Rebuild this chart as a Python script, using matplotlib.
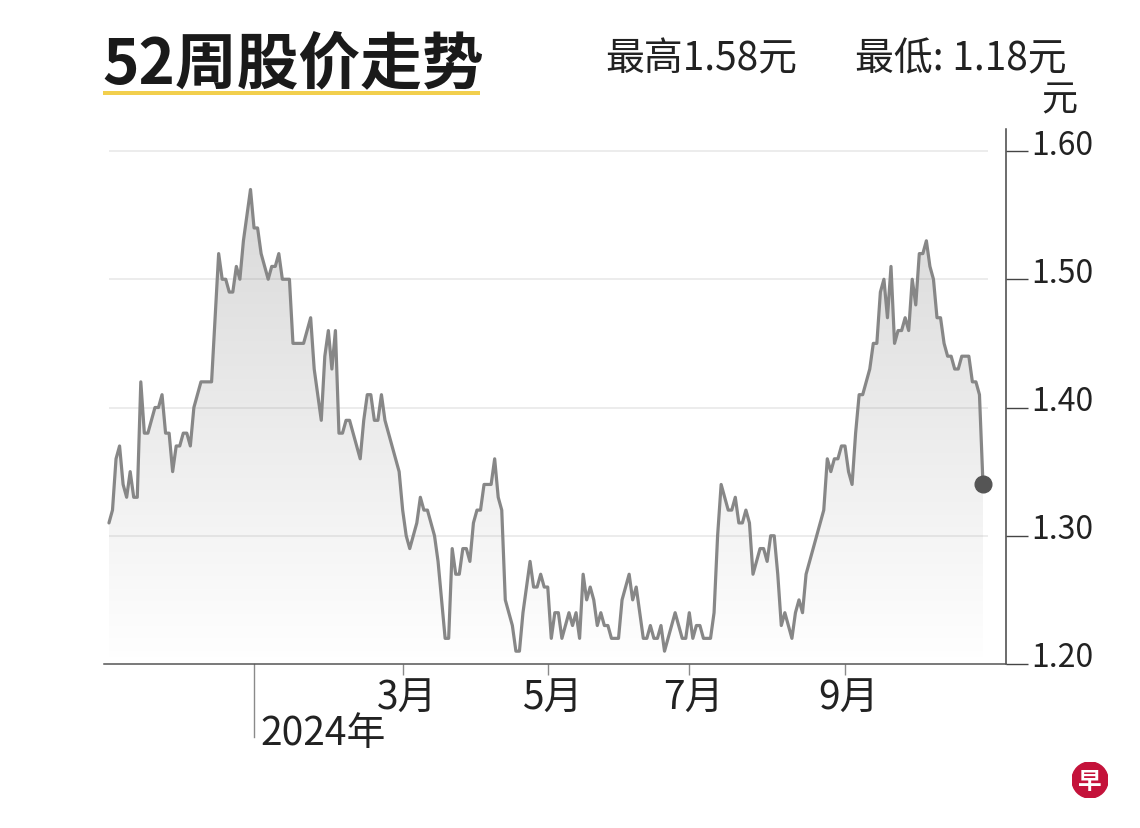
import numpy as np
import pandas as pd
import matplotlib
matplotlib.use('Agg')
import matplotlib.pyplot as plt
from matplotlib.transforms import blended_transform_factory, ScaledTranslation
from matplotlib.patches import Circle, Rectangle, Polygon
from matplotlib.lines import Line2D

plt.rcParams['font.family'] = ['Noto Sans CJK SC', 'DejaVu Sans']

# ---------------- data ----------------
title = '52周股价走势'
high_text = '最高1.58元'
low_text = '最低: 1.18元'
unit_text = '元'

sgx_holidays = ['2023-11-13', '2023-12-25', '2024-01-01', '2024-02-12',
                '2024-03-29', '2024-04-10', '2024-05-01', '2024-05-22',
                '2024-06-17', '2024-08-09', '2024-10-31']
start_date = '2023-11-01'
end_date = '2024-10-25'

prices = [
    1.31, 1.32, 1.36, 1.37, 1.34, 1.33, 1.35, 1.33, 1.33, 1.42,
    1.38, 1.38, 1.39, 1.40, 1.40, 1.41, 1.38, 1.38, 1.35, 1.37,
    1.37, 1.38, 1.38, 1.37, 1.40, 1.41, 1.42, 1.42, 1.42, 1.42,
    1.47, 1.52, 1.50, 1.50, 1.49, 1.49, 1.51, 1.50, 1.53, 1.55,
    1.57, 1.54, 1.54, 1.52, 1.51, 1.50, 1.51, 1.51, 1.52, 1.50,
    1.50, 1.50, 1.45, 1.45, 1.45, 1.45, 1.46, 1.47, 1.43, 1.41,
    1.39, 1.44, 1.46, 1.43, 1.46, 1.38, 1.38, 1.39, 1.39, 1.38,
    1.37, 1.36, 1.39, 1.41, 1.41, 1.39, 1.39, 1.41, 1.39, 1.38,
    1.37, 1.36, 1.35, 1.32, 1.30, 1.29, 1.30, 1.31, 1.33, 1.32,
    1.32, 1.31, 1.30, 1.28, 1.25, 1.22, 1.22, 1.29, 1.27, 1.27,
    1.29, 1.29, 1.28, 1.31, 1.32, 1.32, 1.34, 1.34, 1.34, 1.36,
    1.33, 1.32, 1.25, 1.24, 1.23, 1.21, 1.21, 1.24, 1.26, 1.28,
    1.26, 1.26, 1.27, 1.26, 1.26, 1.22, 1.24, 1.24, 1.22, 1.23,
    1.24, 1.23, 1.24, 1.22, 1.27, 1.25, 1.26, 1.25, 1.23, 1.24,
    1.23, 1.23, 1.22, 1.22, 1.22, 1.25, 1.26, 1.27, 1.25, 1.26,
    1.24, 1.22, 1.22, 1.23, 1.22, 1.22, 1.23, 1.21, 1.22, 1.23,
    1.24, 1.23, 1.22, 1.22, 1.24, 1.22, 1.23, 1.23, 1.22, 1.22,
    1.22, 1.24, 1.30, 1.34, 1.33, 1.32, 1.32, 1.33, 1.31, 1.31,
    1.32, 1.31, 1.27, 1.28, 1.29, 1.29, 1.28, 1.30, 1.30, 1.27,
    1.23, 1.24, 1.23, 1.22, 1.24, 1.25, 1.24, 1.27, 1.28, 1.29,
    1.30, 1.31, 1.32, 1.36, 1.35, 1.36, 1.36, 1.37, 1.37, 1.35,
    1.34, 1.38, 1.41, 1.41, 1.42, 1.43, 1.45, 1.45, 1.49, 1.50,
    1.47, 1.51, 1.45, 1.46, 1.46, 1.47, 1.46, 1.50, 1.48, 1.52,
    1.52, 1.53, 1.51, 1.50, 1.47, 1.47, 1.45, 1.44, 1.44, 1.43,
    1.43, 1.44, 1.44, 1.44, 1.42, 1.42, 1.41, 1.34,
]

month_ticks = ['2024-03-01', '2024-05-01', '2024-07-01', '2024-09-01']
month_labels = ['3月', '5月', '7月', '9月']
year_tick = '2024-01-01'
year_label = '2024年'

y_ticks = [1.20, 1.30, 1.40, 1.50, 1.60]
y_labels = ['1.20', '1.30', '1.40', '1.50', '1.60']
grid_levels = [1.30, 1.40, 1.50, 1.60]

# ---------------- build ----------------
dates = pd.bdate_range(start_date, end_date, freq='C', holidays=sgx_holidays)
n = len(prices)
x = np.arange(n)
dates = dates[:n]


def pos_of(d):
    return int(np.argmax(dates >= pd.Timestamp(d)))


W, H = 1140, 829
fig = plt.figure(figsize=(W / 100, H / 100), dpi=100)
fig.patch.set_facecolor('white')

ax_left, ax_right, ax_top, ax_bot = 104, 1006, 130, 665
ax = fig.add_axes([ax_left / W, 1 - ax_bot / H, (ax_right - ax_left) / W, (ax_bot - ax_top) / H])
ax.set_facecolor('white')

xmin, xmax = -1.4, 253.5
ymin = 1.20
ymax = 1.20 + (ax_bot - ax_top) / 1282.5

# gridlines (span the data range only)
ax.hlines(grid_levels, x[0], x[-1] + 1.5, colors='#ebebeb', linewidth=1.3, zorder=0)

# gradient fill under the line
verts = [(x[0], ymin)] + list(zip(x, prices)) + [(x[-1], ymin)]
poly = Polygon(verts, closed=True, facecolor='none', edgecolor='none')
ax.add_patch(poly)
grad = np.zeros((256, 1, 4))
grad[..., :3] = 0.5
grad[:, 0, 3] = np.linspace(0.30, 0.0, 256)
im = ax.imshow(grad, extent=[x[0], x[-1], ymin, max(prices)], origin='upper',
               aspect='auto', zorder=1, interpolation='bilinear')
im.set_clip_path(poly)

ax.plot(x, prices, color='#878787', linewidth=2.3, zorder=3,
        solid_joinstyle='round', solid_capstyle='round')
ax.plot([x[-1]], [prices[-1]], 'o', color='#555555', markersize=12, zorder=4)

ax.set_xlim(xmin, xmax)
ax.set_ylim(ymin, ymax)

# spines
for s in ['top', 'left']:
    ax.spines[s].set_visible(False)
ax.spines['bottom'].set_color('#555555')
ax.spines['right'].set_color('#444444')
ax.spines['bottom'].set_linewidth(1.1)
ax.spines['right'].set_linewidth(1.1)

# y axis on the right
ax.yaxis.tick_right()
ax.set_yticks(y_ticks)
ax.set_yticklabels(y_labels)
ax.tick_params(axis='y', direction='out', length=16, width=1.0, color='#444444',
               pad=2, labelsize=23, labelcolor='#222222')
for lbl in ax.get_yticklabels():
    lbl.set_transform(lbl.get_transform() + ScaledTranslation(0, 10 / 100, fig.dpi_scale_trans))

# x axis month ticks
mpos = [pos_of(d) for d in month_ticks]
ax.set_xticks(mpos)
ax.set_xticklabels([])
ax.tick_params(axis='x', direction='out', length=8, width=1.0, color='#8a8a8a')
trans = blended_transform_factory(ax.transData, ax.transAxes)
for p, lab in zip(mpos, month_labels):
    ax.annotate(lab, xy=(p, 0), xycoords=trans, xytext=(4, -45), textcoords='offset pixels',
                ha='center', va='baseline', fontsize=28, color='#222222', annotation_clip=False)

# year tick (long) and label
ypos = pos_of(year_tick)
ax.add_line(Line2D([ypos, ypos], [0, -(738 - ax_bot) / (ax_bot - ax_top)], transform=trans,
                   color='#8a8a8a', linewidth=1.0, clip_on=False))
ax.annotate(year_label, xy=(ypos, 0), xycoords=trans, xytext=(6, -80), textcoords='offset pixels',
            ha='left', va='baseline', fontsize=28, color='#222222', annotation_clip=False)

# title & underline
fig.text(102 / W, 1 - 83 / H, title, fontsize=44.5, fontweight='bold', color='#1a1a1a',
         ha='left', va='baseline')
fig.add_artist(Rectangle((103 / W, 1 - 96 / H), (480 - 103) / W, 4 / H,
                         transform=fig.transFigure, color='#f2cf4d', linewidth=0))

# header high / low
fig.text(605 / W, 1 - 70 / H, high_text, fontsize=28, color='#222222', ha='left', va='baseline')
fig.text(855 / W, 1 - 70 / H, low_text, fontsize=28, color='#222222', ha='left', va='baseline')
fig.text(1059 / W, 1 - 100 / H, unit_text, fontsize=26, color='#222222', ha='center', va='center')

# logo
lax = fig.add_axes([(1090 - 18) / W, 1 - (781 + 18) / H, 36 / W, 36 / H])
lax.set_xlim(-1, 1)
lax.set_ylim(-1, 1)
lax.axis('off')
lax.add_patch(Circle((0, 0), 1, color='#c4123a'))
lax.text(0, -0.05, '早', color='white', fontsize=17, fontweight='bold', ha='center', va='center')

fig.savefig('out.png', dpi=100, facecolor='white')
